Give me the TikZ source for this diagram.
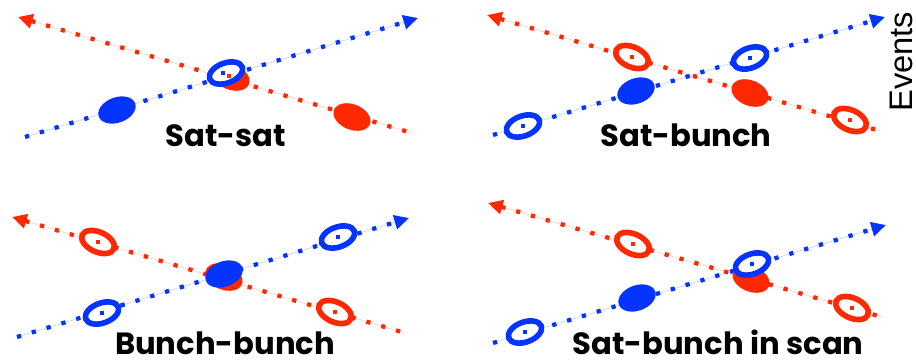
\documentclass[tikz,border=0pt]{standalone}
\usepackage{fontspec}
\newfontfamily\lblfont{Poppins}
\newfontfamily\axisfont{Liberation Sans}
\usetikzlibrary{arrows.meta,shapes.geometric}
\definecolor{beamred}{RGB}{255,40,0}
\definecolor{beamblue}{RGB}{5,51,255}
\tikzset{
  beam/.style={line width=3.2pt, dash pattern=on 3.2pt off 8.4pt},
  redbeam/.style={beam, draw=beamred, fill=beamred, {Triangle[length=11pt,width=10.5pt]}-},
  bluebeam/.style={beam, draw=beamblue, fill=beamblue, -{Triangle[length=11pt,width=10.5pt]}},
  bunchfill/.style={ellipse, minimum width=29pt, minimum height=19pt, inner sep=0pt},
  bunchring/.style={ellipse, line width=4.2pt, fill=white, minimum width=26pt, minimum height=15pt, inner sep=0pt},
  bluefill/.style={bunchfill, fill=beamblue, rotate=20},
  redfill/.style={bunchfill, fill=beamred, rotate=-22},
  bluering/.style={bunchring, draw=beamblue, rotate=20},
  redring/.style={bunchring, draw=beamred, rotate=-24},
  coredot/.style={rectangle, minimum size=3.2pt, inner sep=0pt},
  tagtext/.style={font=\lblfont\bfseries\fontsize{23}{23}\selectfont, anchor=base, inner sep=0pt},
}
\begin{document}
\begin{tikzpicture}[x=0.75pt, y=-0.75pt]
\useasboundingbox (0,0) rectangle (916,361);
\clip (0,0) rectangle (916,361);

% ---------- Sat-sat ----------
\coordinate (aRtip) at (18,17);   \coordinate (aRend) at (412,133);
\coordinate (aBbeg) at (25,137);  \coordinate (aBtip) at (418,18);
\draw[redbeam]  (aRtip) -- (aRend);
\draw[bluebeam] (aBbeg) -- (aBtip);
\node[bluefill] (aB1) at (117,110) {};
\node[redfill]  (aR1) at (352,117) {};
\node[redfill]  (aR0) at (231,77) {};
\node[bluering] (aB0) at (226,73) {};
\node[coredot, fill=beamblue] (aB0c) at (223,73) {};
\node[coredot, fill=beamred]  (aR0c) at (229,76) {};
\node[tagtext] (aT) at (226,146) {Sat-sat};

% ---------- Sat-bunch ----------
\coordinate (bRtip) at (487,15);  \coordinate (bRend) at (880,131);
\coordinate (bBbeg) at (493,135); \coordinate (bBtip) at (885,17);
\draw[redbeam]  (bRtip) -- (bRend);
\draw[bluebeam] (bBbeg) -- (bBtip);
\node[redring]  (bR1) at (632,57) {};
\node[coredot, fill=beamred] (bR1c) at (bR1.center) {};
\node[bluering] (bB1) at (750,58) {};
\node[coredot, fill=beamblue] (bB1c) at (bB1.center) {};
\node[bluefill] (bB2) at (636,91) {};
\node[redfill]  (bR2) at (750,93) {};
\node[bluering] (bB3) at (523,126) {};
\node[coredot, fill=beamblue] (bB3c) at (bB3.center) {};
\node[redring]  (bR3) at (850,120) {};
\node[coredot, fill=beamred] (bR3c) at (bR3.center) {};
\node[tagtext] (bT) at (686,146) {Sat-bunch};

% ---------- Bunch-bunch ----------
\coordinate (cRtip) at (12,217);  \coordinate (cRend) at (405,333);
\coordinate (cBbeg) at (17,337);  \coordinate (cBtip) at (409,218);
\draw[redbeam]  (cRtip) -- (cRend);
\draw[bluebeam] (cBbeg) -- (cBtip);
\node[redring]  (cR1) at (98,242) {};
\node[coredot, fill=beamred] (cR1c) at (cR1.center) {};
\node[bluering] (cB1) at (338,237) {};
\node[coredot, fill=beamblue] (cB1c) at (cB1.center) {};
\node[redfill]  (cR0) at (224,277) {};
\node[bluefill] (cB0) at (224,274) {};
\node[bluering] (cB2) at (102,313) {};
\node[coredot, fill=beamblue] (cB2c) at (cB2.center) {};
\node[redring]  (cR2) at (335,312) {};
\node[coredot, fill=beamred] (cR2c) at (cR2.center) {};
\node[tagtext] (cT) at (225,354) {Bunch-bunch};

% ---------- Sat-bunch in scan ----------
\coordinate (dRtip) at (488,203); \coordinate (dRend) at (882,317);
\coordinate (dBbeg) at (493,343); \coordinate (dBtip) at (886,225);
\draw[redbeam]  (dRtip) -- (dRend);
\draw[bluebeam] (dBbeg) -- (dBtip);
\node[redring]  (dR1) at (633,244) {};
\node[coredot, fill=beamred] (dR1c) at (dR1.center) {};
\node[redfill]  (dR0) at (751,279) {};
\node[bluering] (dB0) at (752,264) {};
\node[coredot, fill=beamblue] (dB0c) at (dB0.center) {};
\node[bluefill] (dB2) at (637,298) {};
\node[bluering] (dB3) at (525,332) {};
\node[coredot, fill=beamblue] (dB3c) at (dB3.center) {};
\node[redring]  (dR2) at (852,308) {};
\node[coredot, fill=beamred] (dR2c) at (dR2.center) {};
\node[tagtext] (dT) at (718,354) {Sat-bunch in scan};

% ---------- axis title at the right edge ----------
\node[font=\axisfont\fontsize{24.5}{24.5}\selectfont, rotate=90, anchor=base west, inner sep=0pt]
  (axis) at (912,112) {Events (};
\end{tikzpicture}
\end{document}
